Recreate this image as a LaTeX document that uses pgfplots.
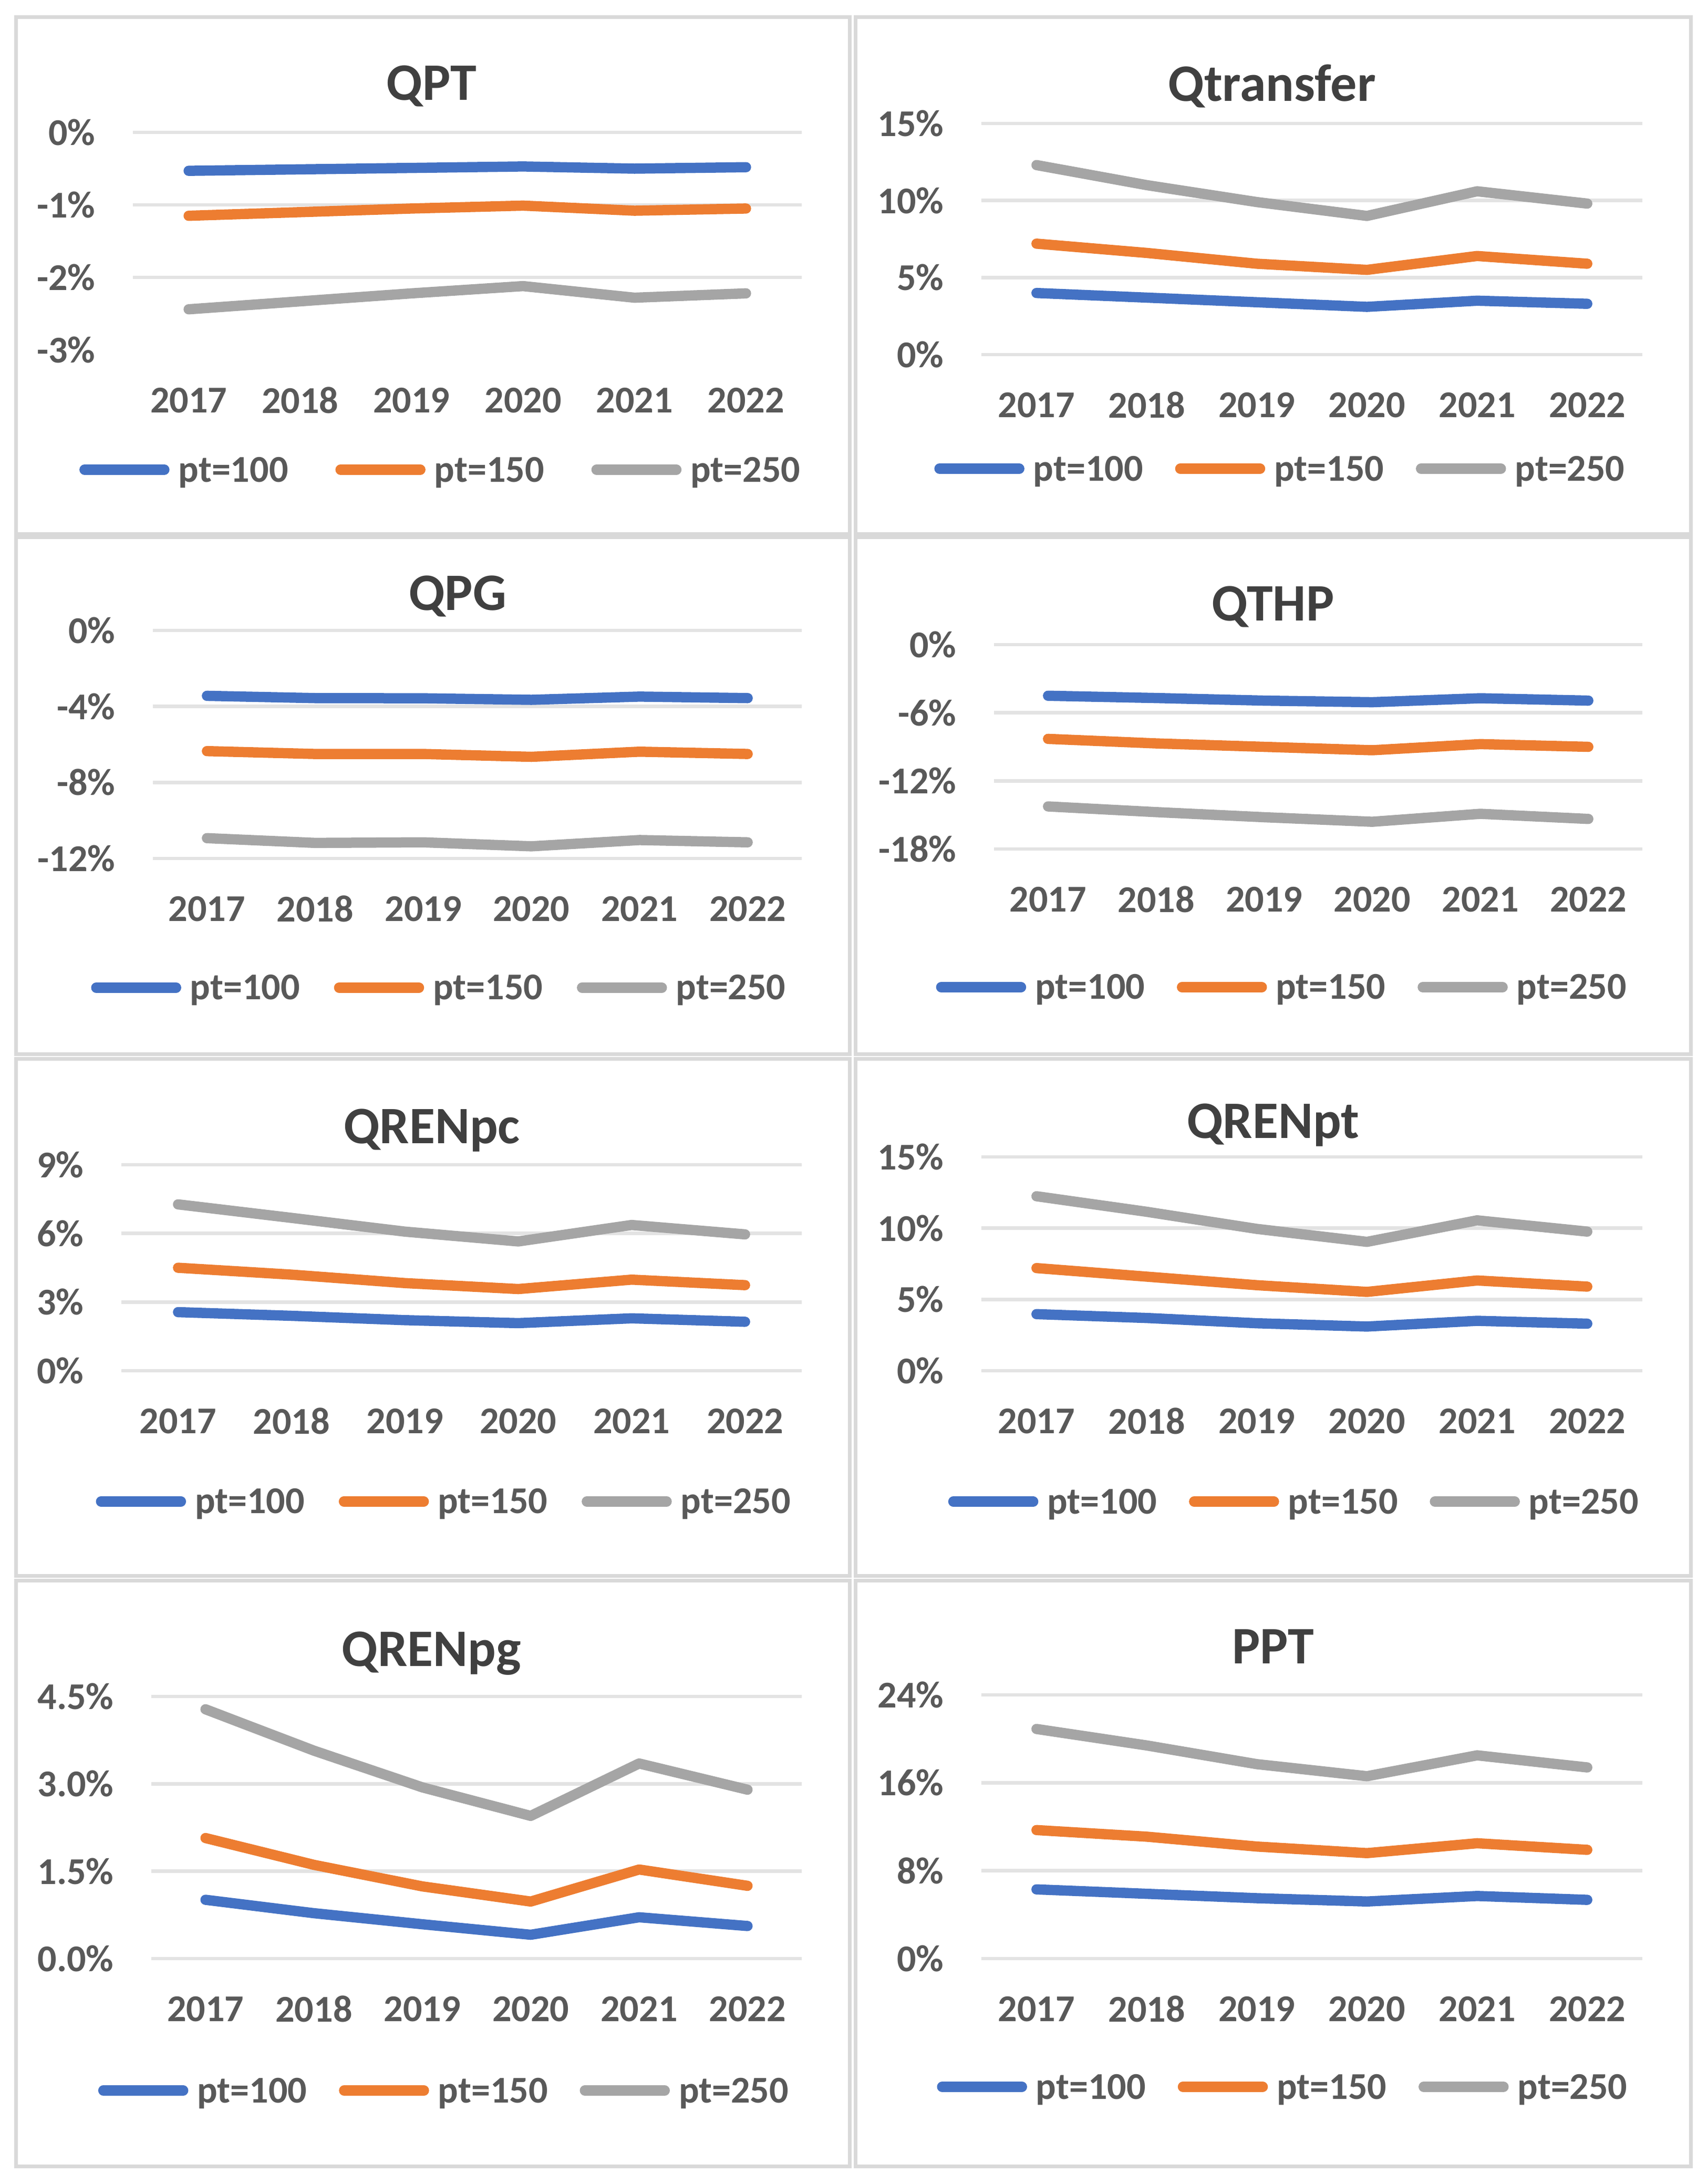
\documentclass[border=0pt]{standalone}
\usepackage{pgfplots}
\pgfplotsset{compat=1.18}
\usepackage{fontspec}
\setmainfont{Carlito}
\definecolor{c1}{HTML}{4472C4}
\definecolor{c2}{HTML}{ED7D31}
\definecolor{c3}{HTML}{A5A5A5}
\definecolor{gridgray}{HTML}{E3E3E3}
\definecolor{framegray}{HTML}{D9D9D9}
\definecolor{labgray}{HTML}{595959}
\definecolor{titlegray}{HTML}{404040}
\pgfplotsset{
  panel/.style={
    scale only axis,
    xmin=-0.5, xmax=5.5, xtick={0,1,2,3,4,5},
    xticklabels={2017,2018,2019,2020,2021,2022},
    enlargelimits=false, clip=false,
    axis line style={draw=none}, major tick length=0pt,
    ymajorgrids, grid style={line width=0.065cm, color=gridgray},
    tick label style={font=\fontsize{20.5}{24}\selectfont\bfseries, text=labgray, inner sep=0pt},
    xticklabel style={anchor=center, yshift=-0.96cm},
    yticklabel style={anchor=east, xshift=-0.71cm},
    every axis plot/.append style={line width=0.195cm, line cap=round, line join=round, no markers},
    legend columns=3,
    legend image code/.code={\draw[##1, line width=0.195cm, line cap=round] (0cm,0.02cm) -- (1.52cm,0.02cm);},
    legend style={draw=none, fill=none, anchor=center, yshift=0cm,
      font=\fontsize{20.5}{24}\selectfont\bfseries, text=labgray,
      nodes={inner sep=0pt},
      /tikz/every odd column/.append style={column sep=0.17cm}},
    legend cell align=left,
  },
  lsep/.style={legend style={/tikz/every even column/.append style={column sep=#1}}}
}
\tikzset{ttl/.style={anchor=base, font=\fontsize{28.5}{32}\selectfont\bfseries, text=titlegray},
  frame/.style={draw=framegray, line width=0.07cm}}
\begin{document}
\begin{tikzpicture}
\path[use as bounding box] (0,0) rectangle (32.51,-41.57);
% panel frames
\draw[frame] (0.30,-0.33) rectangle (16.175,-10.16);
\draw[frame] (16.28,-0.33) rectangle (32.18,-10.16);
\draw[frame] (0.30,-10.225) rectangle (16.175,-20.06);
\draw[frame] (16.28,-10.225) rectangle (32.18,-20.06);
\draw[frame] (0.30,-20.15) rectangle (16.175,-29.99);
\draw[frame] (16.28,-20.15) rectangle (32.18,-29.99);
\draw[frame] (0.30,-30.08) rectangle (16.175,-41.23);
\draw[frame] (16.28,-30.08) rectangle (32.18,-41.23);
% titles
\node[ttl] at (8.21,-1.91) {QPT};
\node[ttl] at (24.21,-1.93) {Qtransfer};
\node[ttl] at (8.71,-11.61) {QPG};
\node[ttl] at (24.23,-11.81) {QTHP};
\node[ttl] at (8.22,-21.76) {QRENpc};
\node[ttl] at (24.23,-21.66) {QRENpt};
\node[ttl] at (8.21,-31.71) {QRENpg};
\node[ttl] at (24.23,-31.66) {PPT};

% QPT
\begin{scope}[shift={(2.53,-6.66)}]
\begin{axis}[panel, lsep=0.90cm, at={(0,0)}, anchor=south west, width=12.73cm, height=4.14cm,
  ymin=-3, ymax=0, ytick={-2,-1,0}, yticklabels={-2\%,-1\%,0\%},
  extra y ticks={-3}, extra y tick labels={-3\%}, extra y tick style={grid=none},
  legend style={at={(0.4588,-0.5556)}}]
\addplot[c1] coordinates {(0,-0.53) (1,-0.51) (2,-0.49) (3,-0.47) (4,-0.50) (5,-0.48)};
\addplot[c2] coordinates {(0,-1.15) (1,-1.10) (2,-1.05) (3,-1.01) (4,-1.08) (5,-1.05)};
\addplot[c3] coordinates {(0,-2.44) (1,-2.33) (2,-2.22) (3,-2.12) (4,-2.28) (5,-2.22)};
\addlegendentry{pt=100}\addlegendentry{pt=150}\addlegendentry{pt=250}
\end{axis}
\end{scope}

% Qtransfer
\begin{scope}[shift={(18.68,-6.75)}]
\begin{axis}[panel, lsep=0.61cm, at={(0,0)}, anchor=south west, width=12.58cm, height=4.40cm,
  ymin=0, ymax=15, ytick={0,5,10,15}, yticklabels={0\%,5\%,10\%,15\%},
  legend style={at={(0.451,-0.498)}}]
\addplot[c1] coordinates {(0,4.0) (1,3.7) (2,3.4) (3,3.1) (4,3.5) (5,3.3)};
\addplot[c2] coordinates {(0,7.2) (1,6.6) (2,5.9) (3,5.5) (4,6.4) (5,5.9)};
\addplot[c3] coordinates {(0,12.3) (1,11.0) (2,9.9) (3,9.0) (4,10.6) (5,9.8)};
\addlegendentry{pt=100}\addlegendentry{pt=150}\addlegendentry{pt=250}
\end{axis}
\end{scope}

% QPG
\begin{scope}[shift={(2.91,-16.34)}]
\begin{axis}[panel, lsep=0.65cm, at={(0,0)}, anchor=south west, width=12.35cm, height=4.34cm,
  ymin=-12, ymax=0, ytick={-12,-8,-4,0}, yticklabels={-12\%,-8\%,-4\%,0\%},
  legend style={at={(0.440,-0.571)}}]
\addplot[c1] coordinates {(0,-3.44) (1,-3.56) (2,-3.57) (3,-3.65) (4,-3.48) (5,-3.56)};
\addplot[c2] coordinates {(0,-6.35) (1,-6.50) (2,-6.50) (3,-6.65) (4,-6.38) (5,-6.50)};
\addplot[c3] coordinates {(0,-10.93) (1,-11.18) (2,-11.15) (3,-11.36) (4,-11.03) (5,-11.15)};
\addlegendentry{pt=100}\addlegendentry{pt=150}\addlegendentry{pt=250}
\end{axis}
\end{scope}

% QTHP
\begin{scope}[shift={(18.92,-16.16)}]
\begin{axis}[panel, lsep=0.61cm, at={(0,0)}, anchor=south west, width=12.34cm, height=3.89cm,
  ymin=-18, ymax=0, ytick={-18,-12,-6,0}, yticklabels={-18\%,-12\%,-6\%,0\%},
  legend style={at={(0.443,-0.681)}}]
\addplot[c1] coordinates {(0,-4.50) (1,-4.70) (2,-4.93) (3,-5.07) (4,-4.72) (5,-4.93)};
\addplot[c2] coordinates {(0,-8.30) (1,-8.70) (2,-9.00) (3,-9.30) (4,-8.76) (5,-9.00)};
\addplot[c3] coordinates {(0,-14.25) (1,-14.75) (2,-15.20) (3,-15.60) (4,-14.90) (5,-15.35)};
\addlegendentry{pt=100}\addlegendentry{pt=150}\addlegendentry{pt=250}
\end{axis}
\end{scope}

% QRENpc
\begin{scope}[shift={(2.31,-26.09)}]
\begin{axis}[panel, lsep=0.65cm, at={(0,0)}, anchor=south west, width=12.95cm, height=3.92cm,
  ymin=0, ymax=9, ytick={0,3,6,9}, yticklabels={0\%,3\%,6\%,9\%},
  legend style={at={(0.473,-0.640)}}]
\addplot[c1] coordinates {(0,2.56) (1,2.40) (2,2.21) (3,2.08) (4,2.29) (5,2.14)};
\addplot[c2] coordinates {(0,4.50) (1,4.20) (2,3.83) (3,3.57) (4,3.98) (5,3.74)};
\addplot[c3] coordinates {(0,7.27) (1,6.68) (2,6.08) (3,5.65) (4,6.37) (5,5.96)};
\addlegendentry{pt=100}\addlegendentry{pt=150}\addlegendentry{pt=250}
\end{axis}
\end{scope}

% QRENpt
\begin{scope}[shift={(18.68,-26.09)}]
\begin{axis}[panel, lsep=0.61cm, at={(0,0)}, anchor=south west, width=12.58cm, height=4.07cm,
  ymin=0, ymax=15, ytick={0,5,10,15}, yticklabels={0\%,5\%,10\%,15\%},
  legend style={at={(0.472,-0.617)}}]
\addplot[c1] coordinates {(0,3.97) (1,3.70) (2,3.33) (3,3.10) (4,3.50) (5,3.30)};
\addplot[c2] coordinates {(0,7.20) (1,6.60) (2,6.00) (3,5.53) (4,6.33) (5,5.90)};
\addplot[c3] coordinates {(0,12.24) (1,11.15) (2,9.95) (3,9.04) (4,10.55) (5,9.76)};
\addlegendentry{pt=100}\addlegendentry{pt=150}\addlegendentry{pt=250}
\end{axis}
\end{scope}

% QRENpg
\begin{scope}[shift={(2.88,-37.28)}]
\begin{axis}[panel, lsep=0.61cm, at={(0,0)}, anchor=south west, width=12.38cm, height=4.99cm,
  ymin=0, ymax=4.5, ytick={0,1.5,3,4.5}, yticklabels={0.0\%,1.5\%,3.0\%,4.5\%},
  legend style={at={(0.449,-0.507)}}]
\addplot[c1] coordinates {(0,1.01) (1,0.78) (2,0.59) (3,0.41) (4,0.71) (5,0.56)};
\addplot[c2] coordinates {(0,2.07) (1,1.61) (2,1.24) (3,0.98) (4,1.53) (5,1.25)};
\addplot[c3] coordinates {(0,4.28) (1,3.57) (2,2.94) (3,2.45) (4,3.35) (5,2.90)};
\addlegendentry{pt=100}\addlegendentry{pt=150}\addlegendentry{pt=250}
\end{axis}
\end{scope}

% PPT
\begin{scope}[shift={(18.68,-37.28)}]
\begin{axis}[panel, lsep=0.61cm, at={(0,0)}, anchor=south west, width=12.58cm, height=5.02cm,
  ymin=0, ymax=24, ytick={0,8,16,24}, yticklabels={0\%,8\%,16\%,24\%},
  legend style={at={(0.455,-0.490)}}]
\addplot[c1] coordinates {(0,6.30) (1,5.90) (2,5.50) (3,5.20) (4,5.70) (5,5.35)};
\addplot[c2] coordinates {(0,11.7) (1,11.1) (2,10.2) (3,9.6) (4,10.5) (5,9.9)};
\addplot[c3] coordinates {(0,20.9) (1,19.4) (2,17.7) (3,16.6) (4,18.5) (5,17.4)};
\addlegendentry{pt=100}\addlegendentry{pt=150}\addlegendentry{pt=250}
\end{axis}
\end{scope}
\end{tikzpicture}
\end{document}
